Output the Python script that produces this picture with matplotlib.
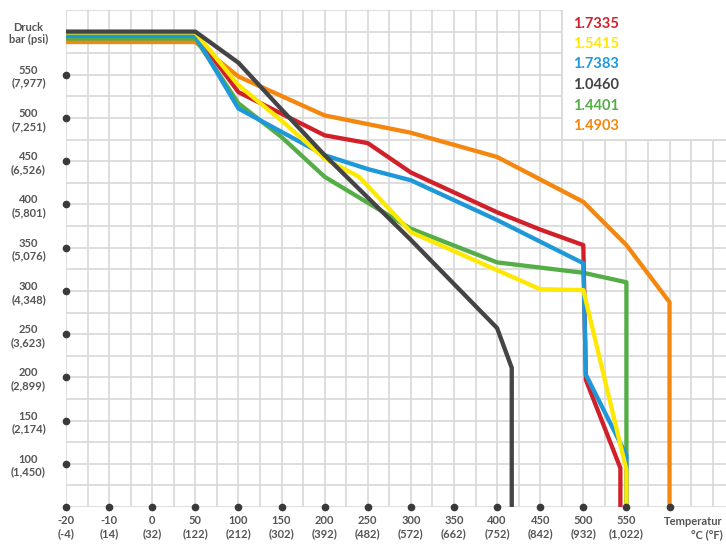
import numpy as np
import matplotlib
matplotlib.use("Agg")
import matplotlib.pyplot as plt
from matplotlib.patches import Rectangle

plt.rcParams['font.family'] = ['Lato', 'DejaVu Sans']
plt.rcParams['font.weight'] = 'bold'

# x axis is not linear: -20, -10, 0 then steps of 50
scale_c = [-20, -10, 0, 50, 100, 150, 200, 250, 300, 350, 400, 450, 500, 550, 600, 650, 700]
x_ticks = [-20, -10, 0, 50, 100, 150, 200, 250, 300, 350, 400, 450, 500, 550]
x_labels = ['-20\n(-4)', '-10\n(14)', '0\n(32)', '50\n(122)', '100\n(212)', '150\n(302)',
            '200\n(392)', '250\n(482)', '300\n(572)', '350\n(662)', '400\n(752)',
            '450\n(842)', '500\n(932)', '550\n(1,022)']
y_ticks = [100, 150, 200, 250, 300, 350, 400, 450, 500, 550]
y_labels = ['100\n(1,450)', '150\n(2,174)', '200\n(2,899)', '250\n(3,623)', '300\n(4,348)',
            '350\n(5,076)', '400\n(5,801)', '450\n(6,526)', '500\n(7,251)', '550\n(7,977)']

# series: temperature in C, pressure in bar
gray_c = [-20, 50, 100, 150, 200, 250, 300, 350, 400, 417, 417]
gray_p = [600, 600, 564, 510, 457, 408, 359, 308, 257, 211, 50]

red_c = [-20, 50, 100, 200, 250, 300, 400, 450, 500, 503, 543, 543]
red_p = [597, 597, 530, 480, 471, 437, 391, 371, 353, 197, 95, 50]

yellow_c = [-20, 50, 100, 150, 200, 240, 300, 400, 450, 500, 550, 550]
yellow_p = [599, 599, 538, 497, 453, 432, 368, 324, 302, 301, 93, 50]

blue_c = [-20, 50, 100, 200, 250, 300, 400, 500, 503, 550, 550]
blue_p = [595, 595, 511, 457, 441, 428, 382, 332, 203, 110, 50]

green_c = [-20, 50, 100, 150, 200, 240, 300, 400, 500, 550, 550]
green_p = [592, 592, 517, 478, 432, 408, 372, 333, 321, 310, 50]

orange_c = [-20, 50, 100, 200, 300, 400, 500, 550, 600, 600]
orange_p = [588, 588, 548, 503, 483, 455, 403, 353, 287, 50]

names = ['1.7335', '1.5415', '1.7383', '1.0460', '1.4401', '1.4903']
colors = ['#d2202a', '#ffe800', '#1e98d8', '#444444', '#55ad47', '#f5870f']

idx = np.arange(len(scale_c))


def fwd(t):
    return np.interp(t, scale_c, idx)


def inv(p):
    return np.interp(p, idx, scale_c)


fig = plt.figure(figsize=(7.26, 5.45), dpi=100)
ax = fig.add_axes([66 / 726, 38 / 545, 660 / 726, 497 / 545])
ax.set_xscale('function', functions=(fwd, inv))
ax.set_xlim(-20, 665.5)
ax.set_ylim(50, 625)

ax.set_xticks(x_ticks + [600])
ax.set_xticklabels(x_labels + [''])
ax.set_xticks([-15, -5, 25] + list(range(75, 660, 50)) + [650], minor=True)
ax.set_yticks(y_ticks + [600])
ax.set_yticklabels(y_labels + ['Druck\nbar (psi)'], ha='center', multialignment='center')
ax.set_yticks([50] + list(range(75, 630, 50)), minor=True)

ax.grid(True, which='both', color='#d8d8d8', lw=1.2)
ax.set_axisbelow(True)
ax.tick_params(which='both', length=0)
ax.tick_params(axis='x', pad=6, labelsize=8, labelcolor='#555555')
ax.tick_params(axis='y', pad=27, labelsize=8, labelcolor='#555555')
for s in ax.spines.values():
    s.set_visible(False)

# white box behind the legend
ax.add_patch(Rectangle((475, 475), 300, 200, facecolor='white', edgecolor='#d8d8d8',
                       lw=1.2, zorder=1))

series = [(orange_c, orange_p, colors[5], 2), (green_c, green_p, colors[4], 3),
          (red_c, red_p, colors[0], 4), (blue_c, blue_p, colors[2], 5),
          (yellow_c, yellow_p, colors[1], 6), (gray_c, gray_p, colors[3], 7)]
for c, p, col, z in series:
    ax.plot(c, p, color=col, lw=3.1, zorder=z, solid_capstyle='butt')

# dots on the axes
ax.plot(x_ticks + [600], [50] * (len(x_ticks) + 1), 'o', color='#3a3a3a', ms=4.5,
        clip_on=False, zorder=10)
ax.plot([-20] * len(y_ticks), y_ticks, 'o', color='#3a3a3a', ms=4.5, clip_on=False, zorder=10)

ax.text(1.0 - 3 / 660, -0.018, 'Temperatur\n°C (°F)', transform=ax.transAxes, ha='right',
        va='top', fontsize=8, color='#555555', multialignment='right', linespacing=1.2)

leg_y = [609, 586, 562, 538, 514, 491]
for name, col, yy in zip(names, colors, leg_y):
    ax.text(488, yy, name, color=col, fontsize=10.5, fontweight='bold', va='center',
            ha='left', zorder=12)

fig.savefig('out.png', dpi=100)
